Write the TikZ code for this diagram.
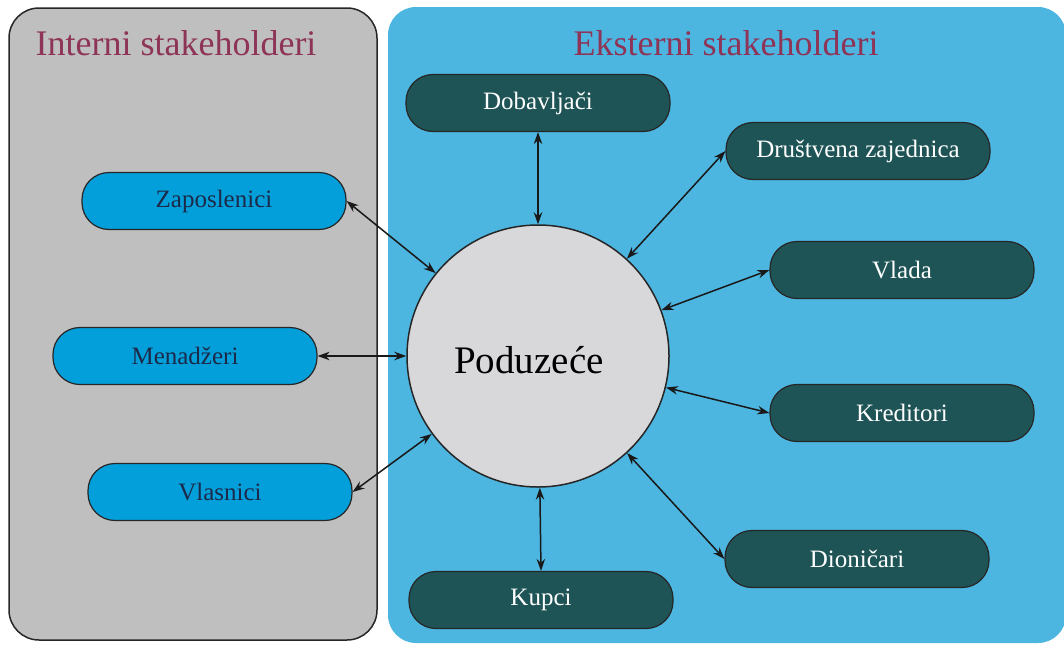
\documentclass[tikz,border=0pt]{standalone}
\usepackage{fontspec}
\setmainfont{Liberation Serif}
\usepackage{tikz}
\usetikzlibrary{arrows.meta}
\usepackage{xcolor}
\definecolor{panelgray}{HTML}{BFBFBF}
\definecolor{panelblue}{HTML}{4DB6E0}
\definecolor{intblue}{HTML}{039FDB}
\definecolor{intnavy}{HTML}{1B2A48}
\definecolor{extteal}{HTML}{1F5456}
\definecolor{firmgray}{HTML}{D8D7DA}
\definecolor{titlered}{HTML}{8E3457}

\begin{document}
\begin{tikzpicture}[x=1pt,y=-1pt,
    intbox/.style={draw=black!85,line width=1.2pt,fill=intblue,text=intnavy,rounded corners=27pt,
      minimum width=264pt,minimum height=57pt,font=\fontsize{25}{28}\selectfont},
    extbox/.style={draw=black!85,line width=1.2pt,fill=extteal,text=white,rounded corners=27pt,
      minimum width=264pt,minimum height=57pt,font=\fontsize{25}{28}\selectfont},
    link/.style={{Stealth[length=12pt,width=8.5pt]}-{Stealth[length=12pt,width=8.5pt]},line width=1.5pt,black!90}]
    \useasboundingbox (0,0) rectangle (1064,645);
    \fill[panelblue,rounded corners=28pt] (388,7) rectangle (1066,643);
    \filldraw[fill=panelgray,draw=black!85,line width=1.5pt,rounded corners=30pt] (9,8) rectangle (377,640);
    \node[text=titlered,font=\fontsize{36}{40}\selectfont] (inttitle) at (176,43) {Interni stakeholderi};
    \node[text=titlered,font=\fontsize{36}{40}\selectfont] (exttitle) at (726,43) {Eksterni stakeholderi};
    \node[circle,draw=black!85,line width=1.5pt,fill=firmgray,minimum size=262pt,inner sep=0pt] (firm) at (538,356) {};
    \node[font=\fontsize{39}{44}\selectfont] (firmtext) at (529,360) {Poduzeće};
    \node[intbox] (zap) at (214,201) {Zaposlenici};
    \node[intbox] (men) at (185,356) {Menadžeri};
    \node[intbox] (vla) at (220,492) {Vlasnici};
    \node[extbox] (dob) at (538,103) {Dobavljači};
    \node[extbox] (dru) at (858,151) {Društvena zajednica};
    \node[extbox] (vld) at (902,270) {Vlada};
    \node[extbox] (kre) at (902,413) {Kreditori};
    \node[extbox] (dio) at (857,559) {Dioničari};
    \node[extbox] (kup) at (541,600) {Kupci};
    \draw[link] (zap.east) -- (firm);
    \draw[link] (men.east) -- (firm);
    \draw[link] (vla.east) -- (firm);
    \draw[link] (dob.south) -- (firm);
    \draw[link] (dru.west) -- (firm);
    \draw[link] (vld.west) -- (firm);
    \draw[link] (kre.west) -- (firm);
    \draw[link] (dio.west) -- (firm);
    \draw[link] (kup.north) -- (firm);
\end{tikzpicture}
\end{document}
